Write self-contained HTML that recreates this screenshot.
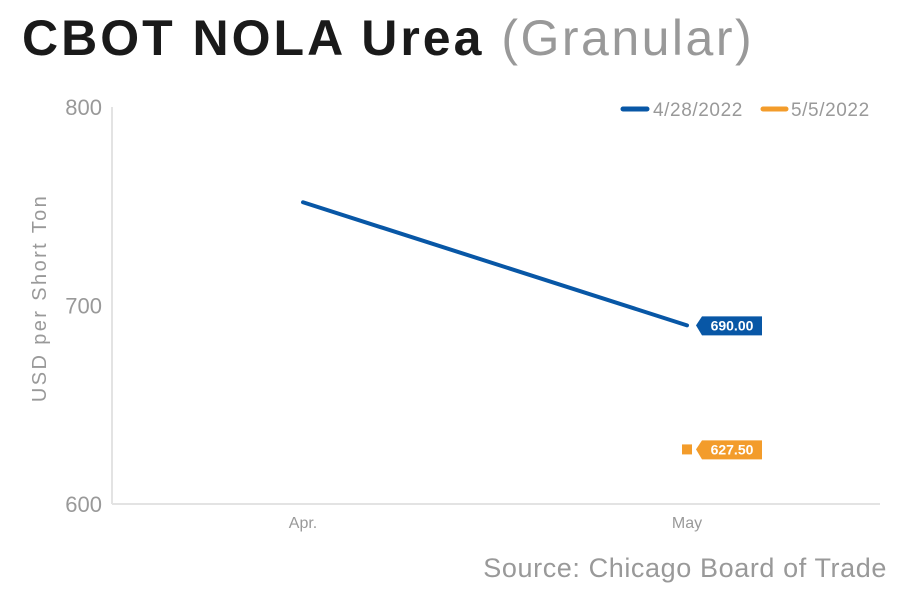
<!DOCTYPE html>
<html><head><meta charset="utf-8"><style>
body{margin:0;background:#fff;width:905px;height:596px;overflow:hidden;font-family:"Liberation Sans",sans-serif}
</style></head><body>
<svg width="905" height="596">
<text x="22" y="55" font-size="50" font-weight="bold" fill="#1a1a1a" letter-spacing="3">CBOT NOLA Urea <tspan font-weight="normal" fill="#999" letter-spacing="2.5">(Granular)</tspan></text>
<g id="axes"></g>
<g id="marks"></g>
<g>
<line x1="623" y1="109" x2="647" y2="109" stroke="#0857a6" stroke-width="5" stroke-linecap="round"/>
<text x="653" y="116" font-size="19" letter-spacing="0.6" fill="#999">4/28/2022</text>
<line x1="763" y1="109" x2="786" y2="109" stroke="#f39c2b" stroke-width="5" stroke-linecap="round"/>
<text x="791" y="116" font-size="19" letter-spacing="0.6" fill="#999">5/5/2022</text>
</g>
<text transform="translate(46,298) rotate(-90)" text-anchor="middle" font-size="20" letter-spacing="2.4" fill="#999">USD per Short Ton</text>
<text x="887" y="577" text-anchor="end" font-size="27" letter-spacing="0.6" fill="#999">Source: Chicago Board of Trade</text>
</svg>
<script>
const categories=["Apr.","May"];
const yTicks=[600,700,800];
const series1=[752,690];
const series2=[null,627.5];
const labels1="690.00", labels2="627.50";
const NS="http://www.w3.org/2000/svg";
const X0=112,X1=880,Y0=504,Y1=107;
const xs=i=>303+i*384;
const ys=v=>Y0-(v-600)/200*(Y0-Y1);
function mk(t,a,p){const e=document.createElementNS(NS,t);for(const k in a)e.setAttribute(k,a[k]);p.appendChild(e);return e;}
const ax=document.getElementById('axes'),mr=document.getElementById('marks');
let l=mk('line',{x1:X0,y1:Y1,x2:X0,y2:Y0,stroke:'#e3e3e3','stroke-width':2},ax);


l=mk('line',{x1:X0,y1:Y0,x2:X1,y2:Y0,stroke:'#e3e3e3','stroke-width':2},ax);


yTicks.forEach(v=>{const t=mk('text',{x:102,y:ys(v)+8,'text-anchor':'end','font-size':22,fill:'#999'},ax);t.textContent=v;

});
categories.forEach((c,i)=>{const t=mk('text',{x:xs(i),y:528,'text-anchor':'middle','font-size':16,fill:'#999'},ax);t.textContent=c;

});
const pts=series1.map((v,i)=>xs(i)+','+ys(v)).join(' ');
const pl=mk('polyline',{points:pts,fill:'none',stroke:'#0857a6','stroke-width':4,'stroke-linecap':'round'},mr);


function tag(x,y,txt,col,name){const g=mk('g',{},mr);


mk('path',{d:`M${x} ${y} L${x+6} ${y-9} L${x+66} ${y-9} L${x+66} ${y+10} L${x+6} ${y+10} Z`,fill:col},g);
const t=mk('text',{x:x+36,y:y+5,'text-anchor':'middle','font-size':14,'font-weight':'bold',fill:'#fff'},g);t.textContent=txt;}
tag(xs(1)+9,ys(series1[1]),labels1,'#0857a6','label-690');
const sq=mk('rect',{x:xs(1)-5,y:ys(series2[1])-5,width:10,height:10,fill:'#f39c2b'},mr);


tag(xs(1)+9,ys(series2[1]),labels2,'#f39c2b','label-627-50');
</script>
</body></html>
